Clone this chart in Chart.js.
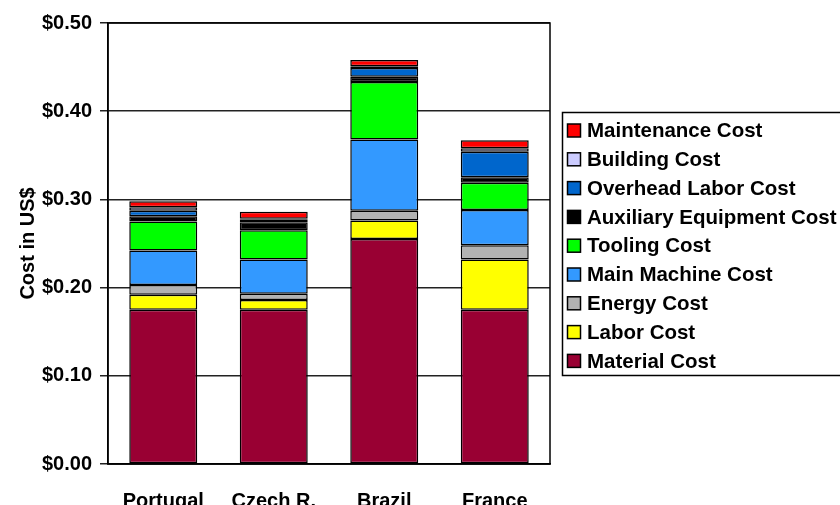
<!DOCTYPE html>
<html>
<head>
<meta charset="utf-8">
<script src="https://cdn.jsdelivr.net/npm/chart.js@4/dist/chart.umd.min.js"></script>
<style>
  html, body { margin: 0; padding: 0; background: #fff; overflow: hidden; }
  #wrap { width: 840px; height: 505px; position: relative; }
</style>
</head>
<body>
<div id="wrap"><canvas id="c" width="840" height="505"></canvas></div>
<script>
const categories = ['Portugal', 'Czech R.', 'Brazil', 'France'];
const materialCost    = [0.175, 0.175, 0.255, 0.175];
const laborCost       = [0.017, 0.011, 0.021, 0.057];
const energyCost      = [0.011, 0.007, 0.011, 0.016];
const mainMachineCost = [0.039, 0.039, 0.081, 0.040];
const toolingCost     = [0.033, 0.033, 0.065, 0.031];
const auxiliaryCost   = [0.006, 0.009, 0.006, 0.006];
const overheadCost    = [0.006, 0.003, 0.010, 0.029];
const buildingCost    = [0.004, 0.001, 0.002, 0.004];
const maintenanceCost = [0.007, 0.008, 0.007, 0.009];
const yTicks = [0, 0.1, 0.2, 0.3, 0.4, 0.5];

const FONT = '"Liberation Sans", Arial, sans-serif';
const FS = 20;
const LFS = 20.5;

function ds(label, data, color) {
  return { label, data, backgroundColor: color, borderColor: '#000', borderWidth: 1.5,
           borderSkipped: false, barPercentage: 0.615, categoryPercentage: 1.0 };
}

const datasets = [
  ds('Material Cost', materialCost, '#990033'),
  ds('Labor Cost', laborCost, '#FFFF00'),
  ds('Energy Cost', energyCost, '#B2B2B2'),
  ds('Main Machine Cost', mainMachineCost, '#3399FF'),
  ds('Tooling Cost', toolingCost, '#00FF00'),
  ds('Auxiliary Equipment Cost', auxiliaryCost, '#000000'),
  ds('Overhead Labor Cost', overheadCost, '#0066CC'),
  ds('Building Cost', buildingCost, '#CCCCFF'),
  ds('Maintenance Cost', maintenanceCost, '#FF0000')
];

const frame = {
  id: 'frame',
  afterDatasetsDraw(chart) {
    const {ctx, chartArea: a} = chart;
    ctx.save();
    ctx.strokeStyle = '#000';
    ctx.lineWidth = 1.5;
    ctx.strokeRect(a.left, a.top, a.right - a.left, a.bottom - a.top);
    ctx.restore();
  }
};

const boxLegend = {
  id: 'boxLegend',
  afterDraw(chart) {
    const ctx = chart.ctx;
    const items = chart.data.datasets.slice().reverse();
    ctx.save();
    ctx.strokeStyle = '#000';
    ctx.lineWidth = 1.5;
    ctx.strokeRect(562.5, 112.5, 300, 263);
    ctx.font = 'bold ' + LFS + 'px ' + FONT;
    ctx.textBaseline = 'middle';
    ctx.textAlign = 'left';
    items.forEach((d, i) => {
      const cy = 130.5 + i * 28.8;
      ctx.fillStyle = d.backgroundColor;
      ctx.fillRect(567.5, cy - 6.5, 13, 13);
      ctx.lineWidth = 1.5;
      ctx.strokeStyle = '#000';
      ctx.strokeRect(567.5, cy - 6.5, 13, 13);
      ctx.fillStyle = '#000';
      ctx.fillText(d.label, 587, cy + 1);
    });
    ctx.restore();
  }
};

new Chart(document.getElementById('c'), {
  type: 'bar',
  data: { labels: categories, datasets },
  options: {
    responsive: false,
    animation: false,
    layout: { padding: { top: 23, right: 290, left: 0, bottom: 0 } },
    plugins: { legend: { display: false }, tooltip: { enabled: false } },
    scales: {
      x: {
        stacked: true,
        grid: { display: false },
        border: { display: true, color: '#000', width: 1.5 },
        ticks: { color: '#000', font: { family: FONT, size: FS, weight: 'bold' }, padding: 17, maxRotation: 0 },
        afterFit(s) { s.height = 41; }
      },
      y: {
        stacked: true,
        min: 0, max: 0.5,
        afterBuildTicks(s) { s.ticks = yTicks.map(v => ({ value: v })); },
        grid: { color: '#222', lineWidth: 1.5, tickLength: 8, drawTicks: true },
        border: { display: true, color: '#000', width: 1.5 },
        ticks: {
          color: '#000', padding: 8,
          font: { family: FONT, size: FS, weight: 'bold' },
          callback: v => '$' + Number(v).toFixed(2)
        },
        title: { display: true, text: 'Cost in US$', color: '#000',
                 font: { family: FONT, size: FS, weight: 'bold' }, padding: { top: 16, bottom: 0 } },
        afterFit(s) { s.width = 108; }
      }
    }
  },
  plugins: [frame, boxLegend]
});
</script>
</body>
</html>
